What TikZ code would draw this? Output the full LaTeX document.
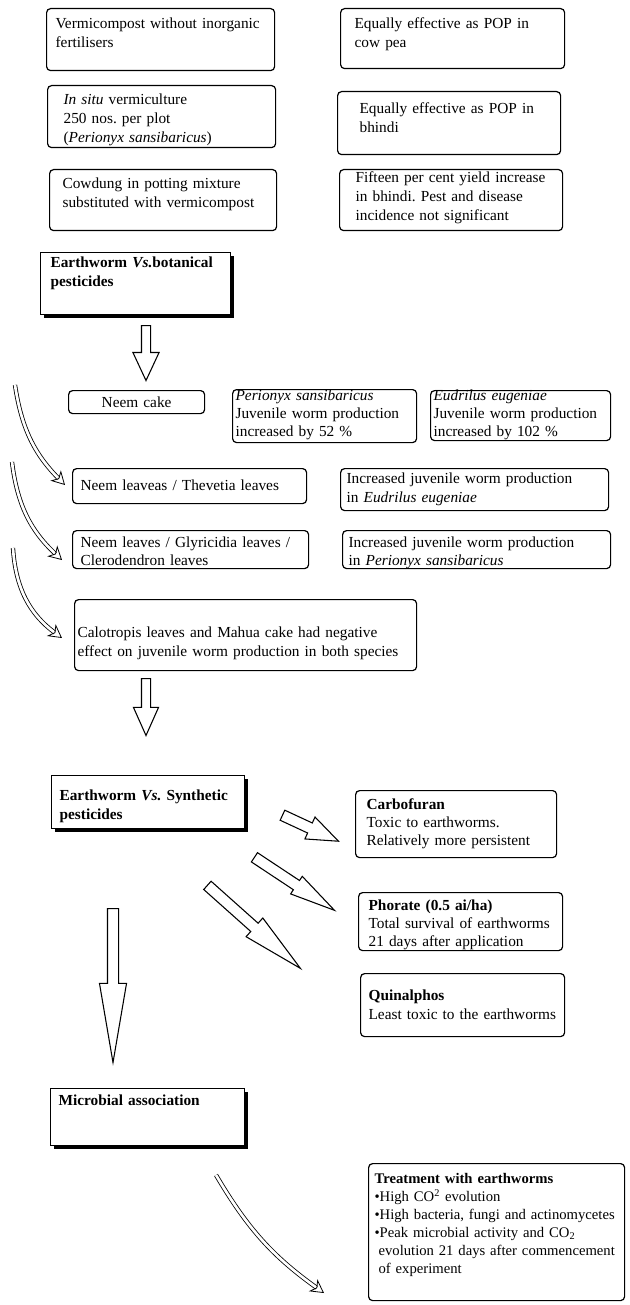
\documentclass[tikz,border=0pt]{standalone}
\usepackage{fontspec}
\setmainfont{Liberation Serif}
\usetikzlibrary{arrows.meta,shapes.arrows,shadows}
\tikzset{
    box/.style={
        draw,
        line width=0.9pt,
        rounded corners=3pt,
        anchor=north west,
        align=left,
        inner ysep=0pt,
        font=\fontsize{11.5}{14.25}\selectfont
    },
    headbox/.style={
        box,
        rounded corners=0pt,
        fill=white,
        font=\bfseries\fontsize{11.5}{14.25}\selectfont,
        drop shadow={shadow xshift=2.4pt,shadow yshift=-2.4pt,fill=black,opacity=1}
    },
    tight/.style={font=\fontsize{11.5}{13.5}\selectfont},
    hollow/.style={
        single arrow,
        draw,
        line width=0.8pt,
        inner xsep=0pt,
        sloped,
        allow upside down,
        pos=0,
        anchor=tail
    },
    curly/.style={double,double distance=2pt,line width=0.6pt,
        -{Stealth[open,length=10pt,width=11pt,inset=3pt]}}
}

\begin{document}
\frenchspacing
\begin{tikzpicture}[x=0.75pt,y=-0.75pt]
    \useasboundingbox (0,0) rectangle (629,1305);

    % vermicompost trials
    \node[box, inner xsep=6.75pt, text width=157.5pt, text height=15pt, text depth=31.5pt] (vermi) at (46,8)
        {Vermicompost without inorganic\\fertilisers};
    \node[box, inner xsep=10.5pt, text width=147pt, text height=15pt, text depth=30pt] (cowpea) at (340,8)
        {Equally effective as POP in\\cow pea};
    \node[box, inner xsep=12pt, text width=147pt, text height=14.25pt, text depth=32.25pt] (insitu) at (47,85)
        {\textit{In situ} vermiculture\\250 nos. per plot\\(\textit{Perionyx sansibaricus})};
    \node[box, inner xsep=16.5pt, text width=134.25pt, text height=16.5pt, text depth=30.75pt] (bhindi) at (337,91)
        {Equally effective as POP in\\bhindi};
    \node[box, inner xsep=9.75pt, text width=150.75pt, text height=14.25pt, text depth=31.5pt] (cowdung) at (49,169)
        {Cowdung in potting mixture\\substituted with vermicompost};
    \node[box, inner xsep=12pt, text width=143.25pt, text height=9.75pt, text depth=36pt] (yield) at (339,169)
        {Fifteen per cent yield increase\\in bhindi. Pest and disease\\incidence not significant};

    % botanical pesticides
    \node[headbox, inner xsep=7.5pt, text width=127.5pt, text height=11.25pt, text depth=35.25pt] (botan) at (40,252)
        {Earthworm \textit{Vs.}botanical\\pesticides};
    \node[box, align=center, inner xsep=4.5pt, text width=93pt, text height=12.75pt, text depth=4.5pt] (neemcake) at (68,390)
        {Neem cake};
    \node[box, tight, inner xsep=2.25pt, text width=133.5pt, text height=8.25pt, text depth=31.5pt] (perio) at (232,389)
        {\textit{Perionyx sansibaricus}\\Juvenile worm production\\increased by 52 \%};
    \node[box, tight, inner xsep=2.25pt, text width=130.5pt, text height=7.5pt, text depth=30pt] (eudri) at (430,390)
        {\textit{Eudrilus eugeniae}\\Juvenile worm production\\increased by 102 \%};
    \node[box, inner xsep=6pt, text width=163.5pt, text height=16.5pt, text depth=9.75pt] (thevetia) at (72,468)
        {Neem leaveas / Thevetia leaves};
    \node[box, inner xsep=4.5pt, text width=192pt, text height=11.25pt, text depth=20.25pt] (inceud) at (340,468)
        {Increased juvenile worm production\\in \textit{Eudrilus eugeniae}};
    \node[box, tight, inner xsep=6pt, text width=165pt, text height=12.75pt, text depth=15.75pt] (glyri) at (72,530)
        {Neem leaves / Glyricidia leaves /\\Clerodendron leaves};
    \node[box, tight, inner xsep=4.5pt, text width=192pt, text height=12.75pt, text depth=15.75pt] (incper) at (342,530)
        {Increased juvenile worm production\\in \textit{Perionyx sansibaricus}};
    \node[box, inner xsep=2.25pt, text width=252pt, text height=28.5pt, text depth=24.75pt] (calo) at (74,599)
        {Calotropis leaves and Mahua cake had negative\\effect on juvenile worm production in both species};

    % synthetic pesticides
    \node[headbox, inner xsep=6pt, text width=132.75pt, text height=18.75pt, text depth=21pt] (synth) at (51,775)
        {Earthworm \textit{Vs.} Synthetic\\pesticides};
    \node[box, tight, inner xsep=8.25pt, text width=134.25pt, text height=14.25pt, text depth=36pt] (carbo) at (355,790)
        {\textbf{Carbofuran}\\Toxic to earthworms.\\Relatively more persistent};
    \node[box, tight, inner xsep=7.5pt, text width=138pt, text height=13.5pt, text depth=30pt] (phorate) at (358,892)
        {\textbf{Phorate (0.5 ai/ha)}\\Total survival of earthworms\\21 days after application};
    \node[box, inner xsep=6pt, text width=141pt, text height=20.25pt, text depth=27pt] (quinal) at (360,973)
        {\textbf{Quinalphos}\\Least toxic to the earthworms};

    % microbial association
    \node[headbox, inner xsep=6pt, text width=133.5pt, text height=12.75pt, text depth=30pt] (microb) at (50,1088)
        {Microbial association};
    \node[box, font=\fontsize{11}{13.5}\selectfont, inner xsep=4.5pt, text width=183pt, text height=15pt, text depth=87.75pt] (treat) at (368,1163)
        {\textbf{Treatment with earthworms}\\
         •High CO\textsuperscript{2} evolution\\
         •High bacteria, fungi and actinomycetes\\
         •Peak microbial activity and CO\textsubscript{2}\\
         \hspace{3pt}evolution 21 days after commencement\\
         \hspace{3pt}of experiment};

    % hollow arrows
    \coordinate (dA) at (146,325);
    \coordinate (dB) at (146,380);
    \path (dA) -- node[hollow, minimum height=41.25pt, inner ysep=3pt,
        single arrow head extend=6.4pt, single arrow tip angle=50] (toneem) {} (dB);
    \coordinate (dC) at (146,678);
    \coordinate (dD) at (146,735);
    \path (dC) -- node[hollow, minimum height=42.75pt, inner ysep=3pt,
        single arrow head extend=6pt, single arrow tip angle=48] (tosynth) {} (dD);
    \coordinate (dE) at (113,908);
    \coordinate (dF) at (113,1062);
    \path (dE) -- node[hollow, minimum height=115.5pt, inner ysep=3.75pt,
        single arrow head extend=6pt, single arrow tip angle=19.4] (tomicrob) {} (dF);
    \coordinate (sA) at (282,815);
    \coordinate (sB) at (338,841);
    \path (sA) -- node[hollow, minimum height=46.3pt, inner ysep=3.75pt,
        single arrow head extend=4.9pt, single arrow tip angle=42] (tocarbo) {} (sB);
    \coordinate (sC) at (254,857);
    \coordinate (sD) at (334,910);
    \path (sC) -- node[hollow, minimum height=72pt, inner ysep=3.75pt,
        single arrow head extend=3.75pt, single arrow tip angle=26] (tophorate) {} (sD);
    \coordinate (sE) at (207,885);
    \coordinate (sF) at (300,968);
    \path (sE) -- node[hollow, minimum height=93.5pt, inner ysep=3.75pt,
        single arrow head extend=5.25pt, single arrow tip angle=23] (toquinal) {} (sF);

    % curved arrows
    \coordinate (kA) at (15,385);
    \coordinate (kB) at (65,485);
    \draw[curly] (kA) to[bend right=18] (kB);
    \coordinate (kC) at (12,462);
    \coordinate (kD) at (62,560);
    \draw[curly] (kC) to[bend right=20] (kD);
    \coordinate (kE) at (13,548);
    \coordinate (kF) at (62,638);
    \draw[curly] (kE) to[bend right=25] (kF);
    \coordinate (kG) at (216,1175);
    \coordinate (kH) at (324,1293);
    \draw[curly] (kG) to[bend right=12] (kH);
\end{tikzpicture}
\end{document}
